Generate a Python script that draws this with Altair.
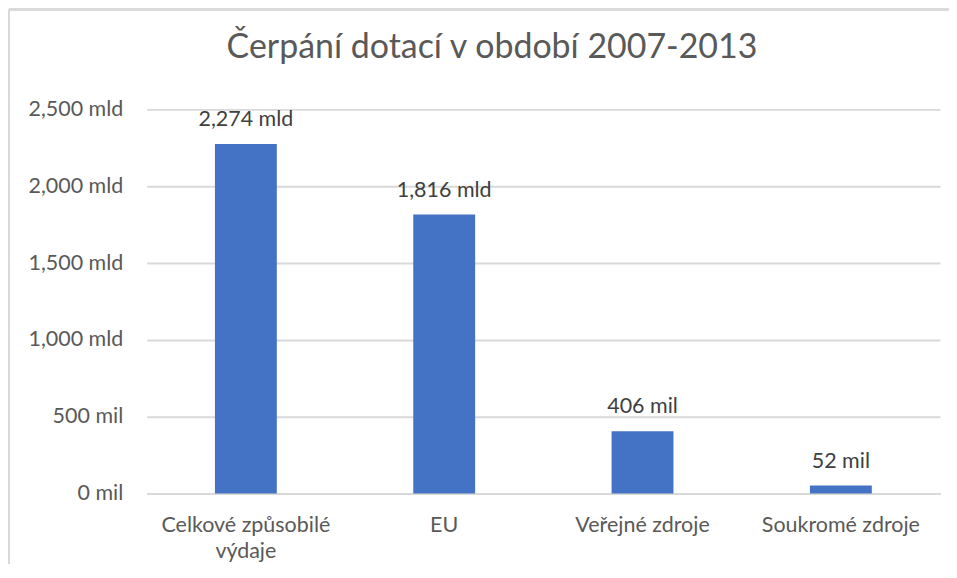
import altair as alt
import pandas as pd

categories = ["Celkové způsobilé výdaje", "EU", "Veřejné zdroje", "Soukromé zdroje"]
values_mil = [2274, 1816, 406, 52]
value_labels = ["2,274 mld", "1,816 mld", "406 mil", "52 mil"]
y_ticks = [0, 500, 1000, 1500, 2000, 2500]
chart_title = "Čerpání dotací v období 2007-2013"

df = pd.DataFrame({"cat": categories, "val": values_mil, "lab": value_labels})
title_df = pd.DataFrame({"t": [chart_title]})

FONT = "Lato"
GRAY = "#595959"
GRID = "#d9d9d9"
LABEL_SIZE = 21.5

x_enc = alt.X(
    "cat:N",
    sort=categories,
    scale=alt.Scale(paddingInner=0.688, paddingOuter=0.344),
    axis=alt.Axis(
        title=None,
        labelAngle=0,
        labelExpr="datum.label == 'Celkové způsobilé výdaje' ? ['Celkové způsobilé', 'výdaje'] : datum.label",
        labelFont=FONT,
        labelFontSize=LABEL_SIZE,
        labelColor=GRAY,
        labelPadding=21,
        labelLineHeight=26,
        ticks=False,
        domain=True,
        domainColor=GRID,
        domainWidth=2,
        grid=False,
    ),
)
y_enc = alt.Y(
    "val:Q",
    scale=alt.Scale(domain=[0, 2500], nice=False),
    axis=alt.Axis(
        title=None,
        values=y_ticks,
        labelExpr="datum.value >= 1000 ? format(datum.value, ',') + ' mld' : format(datum.value, ',') + ' mil'",
        labelFont=FONT,
        labelFontSize=LABEL_SIZE,
        labelColor=GRAY,
        labelPadding=24,
        ticks=False,
        domain=False,
        grid=True,
        gridColor=GRID,
        gridWidth=2,
    ),
)

bars = alt.Chart(df).mark_bar(color="#4472C4").encode(x=x_enc, y=y_enc)
labels = alt.Chart(df).mark_text(
    font=FONT, fontSize=LABEL_SIZE, color="#404040", baseline="alphabetic", dy=-18
).encode(x=alt.X("cat:N", sort=categories), y="val:Q", text="lab:N")

title_mark = alt.Chart(title_df).mark_text(
    font=FONT, fontSize=34, color=GRAY, baseline="alphabetic", align="center"
).encode(x=alt.value(346), y=alt.value(-51), text="t:N")

frame_left = alt.Chart(df).mark_rule(color=GRID, strokeWidth=2).encode(
    x=alt.value(-138), y=alt.value(-100), y2=alt.value(480)
)
frame_top = alt.Chart(df).mark_rule(color=GRID, strokeWidth=2).encode(
    x=alt.value(-138), x2=alt.value(804), y=alt.value(-100)
)

chart = (
    alt.layer(frame_left, frame_top, bars, labels, title_mark)
    .properties(
        width=795,
        height=385,
        autosize=alt.AutoSizeParams(type="none"),
        padding={"left": 139, "top": 101, "right": 9, "bottom": 70},
    )
    .configure_view(stroke=None)
)

chart.save("out.html", embed_options={"renderer": "svg", "actions": False})
